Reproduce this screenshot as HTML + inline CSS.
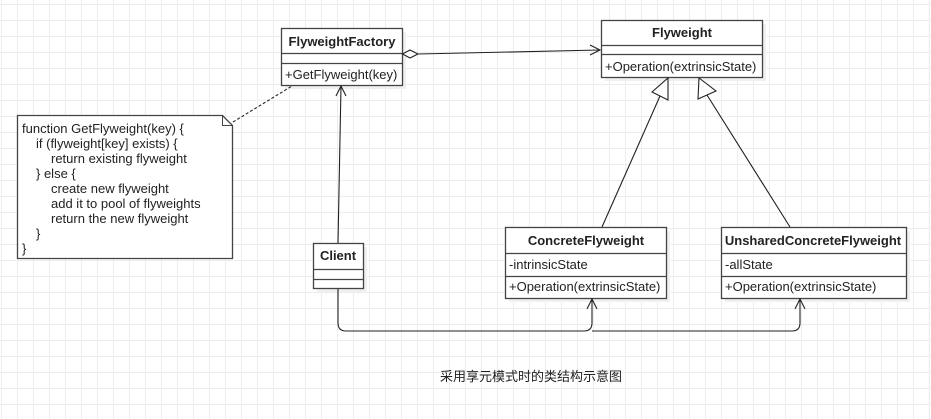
<!DOCTYPE html>
<html><head><meta charset="utf-8"><style>
html,body{margin:0;padding:0;background:#fff;}
svg{display:block;}
text{font-family:"Liberation Sans","Noto Sans CJK SC",sans-serif;font-size:13px;fill:#222;}
.b{font-weight:bold;}
</style></head><body>
<svg width="931" height="419" xmlns="http://www.w3.org/2000/svg">
<defs>
<pattern id="g" x="1" y="4" width="16" height="16" patternUnits="userSpaceOnUse">
<path d="M0 0.5H16M0.5 0V16" stroke="#ededed" stroke-width="1" fill="none"/>
</pattern>
</defs>
<rect width="931" height="419" fill="url(#g)"/>
<g fill="#f0f0f0">
<rect x="285" y="32" width="121" height="57"/>
<rect x="605" y="24" width="161" height="57"/>
<rect x="317" y="247" width="50" height="45"/>
<rect x="509" y="231" width="161" height="71"/>
<rect x="725" y="231" width="185" height="71"/>
</g>
<g fill="#fff" stroke="#444" stroke-width="1.3">
<rect x="281.5" y="28.5" width="121" height="57"/>
<line x1="281" y1="53.5" x2="402" y2="53.5"/><line x1="281" y1="63.5" x2="402" y2="63.5"/>
<rect x="601.5" y="20.5" width="161" height="57"/>
<line x1="601" y1="45.5" x2="762" y2="45.5"/><line x1="601" y1="54.5" x2="762" y2="54.5"/>
<rect x="313.5" y="243.5" width="50" height="45"/>
<line x1="313" y1="269.5" x2="363" y2="269.5"/><line x1="313" y1="279.5" x2="363" y2="279.5"/>
<rect x="505.5" y="227.5" width="161" height="71"/>
<line x1="505" y1="253.5" x2="666" y2="253.5"/><line x1="505" y1="276.5" x2="666" y2="276.5"/>
<rect x="721.5" y="227.5" width="185" height="71"/>
<line x1="721" y1="253.5" x2="906" y2="253.5"/><line x1="721" y1="276.5" x2="906" y2="276.5"/>
<path d="M17.5 115.5H222.5L232.5 125.5V258.5H17.5Z"/>
<path d="M222.5 115.5V125.5H232.5" fill="none" stroke-width="1"/>
</g>
<text class="b" x="342" y="46" text-anchor="middle">FlyweightFactory</text>
<text x="285" y="79">+GetFlyweight(key)</text>
<text class="b" x="682" y="37" text-anchor="middle">Flyweight</text>
<text x="605" y="71">+Operation(extrinsicState)</text>
<text class="b" x="338" y="260" text-anchor="middle">Client</text>
<text class="b" x="586" y="245" text-anchor="middle">ConcreteFlyweight</text>
<text x="509" y="269">-intrinsicState</text>
<text x="509" y="291">+Operation(extrinsicState)</text>
<text class="b" x="813" y="245" text-anchor="middle">UnsharedConcreteFlyweight</text>
<text x="725" y="269">-allState</text>
<text x="725" y="291">+Operation(extrinsicState)</text>
<g xml:space="preserve">
<text x="22" y="133">function GetFlyweight(key) {</text>
<text x="36" y="148">if (flyweight[key] exists) {</text>
<text x="51" y="163">return existing flyweight</text>
<text x="36" y="178">} else {</text>
<text x="51" y="193">create new flyweight</text>
<text x="51" y="208">add it to pool of flyweights</text>
<text x="51" y="223">return the new flyweight</text>
<text x="36" y="238">}</text>
<text x="22" y="253">}</text>
</g>
<g stroke="#222" stroke-width="1.1" fill="none">
<line x1="233" y1="122" x2="292" y2="86" stroke-dasharray="3,2"/>
<path d="M418 54 L600 50"/>
<path d="M402.5 54 L410 50 L418 54 L410 58 Z" fill="#fff"/>
<path d="M590 45 L600 50 L590 55"/>
<line x1="338" y1="243" x2="341" y2="86"/>
<path d="M336 96 L341 86 L346 96"/>
<path d="M338 289 V323 Q338 331 346 331 H584 Q592 331 592 323 V299"/>
<path d="M592 331 H792 Q800 331 800 323 V299"/>
<path d="M587 309 L592 299 L597 309"/>
<path d="M795 309 L800 299 L805 309"/>
<line x1="660" y1="96" x2="602" y2="227"/>
<path d="M668 78 L668 100 L652 92 Z" fill="#fff"/>
<line x1="707" y1="95" x2="790" y2="227"/>
<path d="M699 78 L716 91 L698 99 Z" fill="#fff"/>
</g>
<text x="531" y="381" text-anchor="middle">采用享元模式时的类结构示意图</text>
</svg>
</body></html>
